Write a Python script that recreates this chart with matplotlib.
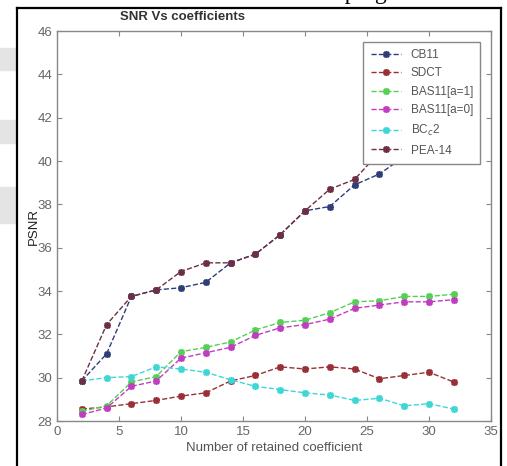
import numpy as np
import matplotlib.pyplot as plt
from matplotlib.patches import Rectangle
from matplotlib.lines import Line2D

# values
coef = [2, 4, 6, 8, 10, 12, 14, 16, 18, 20, 22, 24, 26, 28, 30, 32]
cb11 = [29.85, 31.1, 33.75, 34.05, 34.15, 34.4, 35.3, 35.7, 36.6, 37.7,
        37.9, 38.9, 39.4, 40.2, 40.6, 41.0]
sdct = [28.55, 28.65, 28.8, 28.95, 29.15, 29.3, 29.85, 30.1, 30.5, 30.4,
        30.5, 30.4, 29.95, 30.1, 30.25, 29.8]
bas_a1 = [28.45, 28.7, 29.8, 30.05, 31.2, 31.4, 31.65, 32.2, 32.55, 32.65,
          33.0, 33.5, 33.55, 33.75, 33.75, 33.85]
bas_a0 = [28.3, 28.6, 29.6, 29.85, 30.9, 31.15, 31.4, 31.95, 32.3, 32.45,
          32.7, 33.2, 33.35, 33.5, 33.5, 33.6]
bc_c2 = [29.85, 30.0, 30.05, 30.5, 30.4, 30.25, 29.9, 29.6, 29.45, 29.3,
         29.2, 28.95, 29.05, 28.7, 28.8, 28.55]
pea14 = [29.85, 32.45, 33.75, 34.05, 34.9, 35.3, 35.3, 35.7, 36.6, 37.7,
         38.7, 39.15, 40.4, 41.0, 41.5, 42.0]

series = [
    (cb11, 'CB11', '#2f3d78'),
    (sdct, 'SDCT', '#9a2f35'),
    (bas_a1, 'BAS11[a=1]', '#55d055'),
    (bas_a0, 'BAS11[a=0]', '#c23cc2'),
    (bc_c2, r'BC$_c$2', '#3fd6d6'),
    (pea14, 'PEA-14', '#6e2f45'),
]

plt.rcParams['font.family'] = ['Liberation Sans', 'DejaVu Sans']

fig = plt.figure(figsize=(5.07, 4.66), dpi=100)
W, H = 507.0, 466.0

# page background bits around the screenshot
for y0, y1 in [(48, 70), (120, 143), (187, 223)]:
    fig.patches.append(Rectangle((0, 1 - y1 / H), 15 / W, (y1 - y0) / H,
                                 transform=fig.transFigure, color='#e4e4e4',
                                 zorder=0))
fx0, fx1, fy = 16.5 / W, 501 / W, 1 - 8 / H
for xs, ys in [([fx0, fx0], [-0.01, fy]), ([fx0, fx1], [fy, fy]),
               ([fx1, fx1], [fy, -0.01])]:
    fig.lines.append(Line2D(xs, ys, transform=fig.transFigure,
                            color='black', lw=1.6))
# page text above the screenshot, mostly cut off like in the source
fig.text(313 / W, 1 + 1.5 / H, 'keeping', family='Liberation Serif',
         fontsize=17, va='baseline', ha='left', color='black')

ax = fig.add_axes([57 / W, 1 - 421 / H, 434 / W, 390 / H])
for vals, name, col in series:
    ax.plot(coef, vals, linestyle='--', color=col, lw=1.0, marker=(8, 2, 0),
            markersize=5, markeredgewidth=1.2, label=name)

ax.set_xlim(0, 35)
ax.set_ylim(28, 46)
ax.set_xticks(np.arange(0, 36, 5))
ax.set_yticks(np.arange(28, 47, 2))
ax.tick_params(direction='in', top=True, right=True, length=3.5,
               color='#888888', labelcolor='#666666', labelsize=9.5)
for sp in ax.spines.values():
    sp.set_color('#888888')
    sp.set_linewidth(1.0)

ax.set_xlabel('Number of retained coefficient', fontsize=9.5, color='#555555',
              labelpad=3)
ax.set_ylabel('PSNR', fontsize=9.5, color='#222222', labelpad=-2)
fig.text(182 / W, 1 - 17 / H, 'SNR Vs coefficients', fontsize=9.5,
         fontweight='bold', color='#333333', ha='center', va='center')

leg = ax.legend(loc='upper right', bbox_to_anchor=(0.975, 0.972),
                borderaxespad=0, fontsize=8.5, fancybox=False, framealpha=1,
                edgecolor='#888888', handlelength=2.6, labelspacing=0.55,
                borderpad=0.6)
leg.get_frame().set_linewidth(1.0)
for t in leg.get_texts():
    t.set_color('#555555')

fig.savefig('out.png', dpi=100)
